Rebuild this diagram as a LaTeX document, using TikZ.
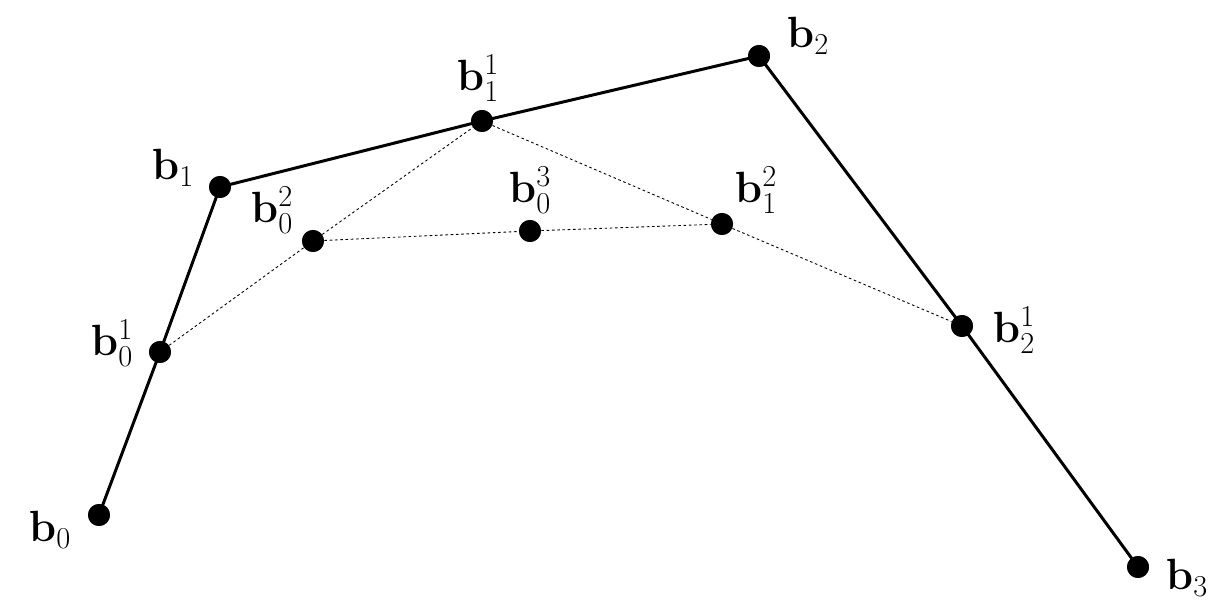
\documentclass[tikz,border=0pt]{standalone}
\begin{document}
\begin{tikzpicture}[x=0.02cm,y=-0.02cm,
  pt/.style={circle,fill=black,inner sep=0pt,minimum size=0.44cm},
  lab/.style={inner sep=0pt,font=\fontsize{25}{30}\selectfont},
  poly/.style={line width=1.7pt},
  aux/.style={line width=0.5pt,dash pattern=on 1.5pt off 1.5pt}]
\useasboundingbox (0,0) rectangle (1214,607);
% control points
\node[pt] (b0) at (99,515) {};
\node[pt] (b1) at (220,187) {};
\node[pt] (b2) at (759,56) {};
\node[pt] (b3) at (1138,567) {};
\node[pt] (b01) at (160,352) {};
\node[pt] (b11) at (482,121) {};
\node[pt] (b21) at (962,326) {};
\node[pt] (b02) at (313,241) {};
\node[pt] (b12) at (722,224) {};
\node[pt] (b03) at (530,231) {};
% polygon
\draw[poly] (b0.center) -- (b01.center) -- (b1.center) -- (b11.center) -- (b2.center) -- (b21.center) -- (b3.center);
\draw[aux] (b01) -- (b02);
\draw[aux] (b02) -- (b11);
\draw[aux] (b11) -- (b12);
\draw[aux] (b12) -- (b21);
\draw[aux] (b02) -- (b03);
\draw[aux] (b03) -- (b12);
% redraw dots on top
\foreach \n in {b0,b1,b2,b3,b01,b11,b21,b02,b12,b03}
  \fill (\n) circle (0.22cm);
% labels
\node[lab] (l0) at (50,530) {$\mathbf{b}_0$};
\node[lab] (l1) at (173,168) {$\mathbf{b}_1$};
\node[lab] (l2) at (808,36) {$\mathbf{b}_2$};
\node[lab] (l3) at (1187,578) {$\mathbf{b}_3$};
\node[lab] (l01) at (112,343) {$\mathbf{b}_0^1$};
\node[lab] (l11) at (478,78) {$\mathbf{b}_1^1$};
\node[lab] (l21) at (1014,330) {$\mathbf{b}_2^1$};
\node[lab] (l02) at (272,210) {$\mathbf{b}_0^2$};
\node[lab] (l12) at (756,190) {$\mathbf{b}_1^2$};
\node[lab] (l03) at (530,190) {$\mathbf{b}_0^3$};
\end{tikzpicture}
\end{document}
